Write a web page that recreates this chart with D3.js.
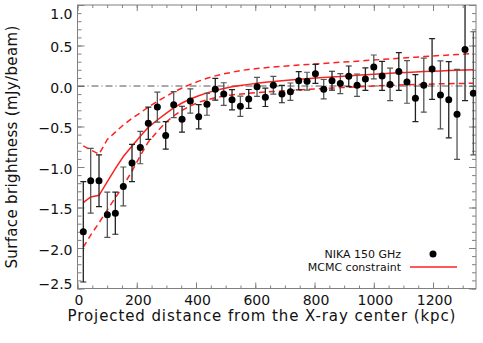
<!DOCTYPE html>
<html><head><meta charset="utf-8">
<script src="https://cdn.jsdelivr.net/npm/d3@7"></script>
<style>
body{margin:0;background:#fff;}
text{font-family:"DejaVu Sans",sans-serif;fill:#111;}
</style></head>
<body><svg id="c" width="483" height="343"></svg>
<script>
// ---- data ----
const xKpc = [19.6, 44.5, 72.6, 100.7, 127.7, 154.7, 184, 212, 239, 269.5, 297.7, 324.7, 352.8, 380.8, 409, 437, 465, 493.6, 521.6, 549.7, 577.8, 606, 634, 661, 690, 718.6, 746.7, 774.8, 803, 831, 859, 887, 915.5, 943.6, 971.7, 1000, 1028, 1055, 1084.5, 1112, 1140.5, 1168.8, 1196.8, 1225, 1253, 1281, 1308, 1336];
const nikaValues = [-1.80, -1.17, -1.17, -1.59, -1.57, -1.24, -0.95, -0.76, -0.46, -0.26, -0.61, -0.23, -0.41, -0.185, -0.38, -0.226, -0.04, -0.10, -0.17, -0.25, -0.16, -0.01, -0.14, 0.01, -0.10, -0.07, 0.065, 0.06, 0.15, -0.04, 0.065, 0.03, 0.12, 0.01, 0.085, 0.235, 0.125, 0.02, 0.18, 0.05, -0.15, 0.01, 0.21, -0.11, -0.17, -0.35, 0.45, -0.09];
const nikaErrors = [0.62, 0.40, 0.32, 0.28, 0.26, 0.24, 0.23, 0.20, 0.20, 0.185, 0.17, 0.16, 0.16, 0.15, 0.15, 0.135, 0.135, 0.14, 0.125, 0.125, 0.117, 0.117, 0.113, 0.11, 0.107, 0.107, 0.113, 0.11, 0.117, 0.12, 0.117, 0.123, 0.127, 0.138, 0.138, 0.148, 0.18, 0.20, 0.233, 0.263, 0.29, 0.333, 0.375, 0.42, 0.47, 0.555, 0.63, 0.76];
const mcmcBest = [-1.44, -1.37, -1.35, -1.18, -1.02, -0.87, -0.74, -0.62, -0.51, -0.42, -0.34, -0.27, -0.21, -0.16, -0.12, -0.085, -0.055, -0.03, -0.01, 0.005, 0.02, 0.035, 0.045, 0.055, 0.065, 0.075, 0.083, 0.09, 0.098, 0.105, 0.112, 0.118, 0.127, 0.133, 0.139, 0.145, 0.151, 0.157, 0.163, 0.168, 0.173, 0.178, 0.182, 0.186, 0.19, 0.194, 0.197, 0.2];
const mcmcUpper = [-0.74, -0.79, -0.84, -0.66, -0.57, -0.48, -0.40, -0.33, -0.26, -0.19, -0.13, -0.075, -0.025, 0.02, 0.06, 0.095, 0.125, 0.15, 0.17, 0.19, 0.205, 0.215, 0.225, 0.235, 0.243, 0.25, 0.258, 0.265, 0.272, 0.279, 0.286, 0.293, 0.3, 0.307, 0.314, 0.321, 0.328, 0.335, 0.342, 0.349, 0.356, 0.363, 0.37, 0.376, 0.382, 0.388, 0.394, 0.40];
const mcmcLower = [-1.99, -1.84, -1.69, -1.53, -1.38, -1.23, -1.05, -0.86, -0.69, -0.56, -0.45, -0.37, -0.30, -0.245, -0.2, -0.17, -0.145, -0.125, -0.11, -0.1, -0.09, -0.082, -0.075, -0.068, -0.062, -0.055, -0.048, -0.042, -0.036, -0.03, -0.025, -0.02, -0.015, -0.01, -0.005, 0.0, 0.004, 0.008, 0.012, 0.015, 0.018, 0.021, 0.024, 0.027, 0.029, 0.031, 0.032, 0.033];
const xTicks = [0, 200, 400, 600, 800, 1000, 1200];
const yTicks = [-2.5, -2.0, -1.5, -1.0, -0.5, 0.0, 0.5, 1.0];
const legendLabels = ["NIKA 150 GHz", "MCMC constraint"];
const xTitle = "Projected distance from the X-ray center (kpc)";
const yTitle = "Surface brightness (mJy/beam)";

// ---- layout ----
const L = 77.5, R = 476, T = 5, B = 288.5;
const svg = d3.select("#c");
const x = d3.scaleLinear().domain([0, 1345]).range([L, R]);
const y = d3.scaleLinear().domain([-2.5, 1.0]).range([B, T]);
const frameColor = "#808080";
const fmtY = v => d3.format(".1f")(v).replace("-", "\u2212");

svg.append("clipPath").attr("id","clp").append("rect")
  .attr("x", L).attr("y", T).attr("width", R-L).attr("height", B-T);

// minor ticks
const xMinor = d3.range(0, 1346, 50);
const yMinor = d3.range(-2.5, 1.0001, 0.1);
const axG = svg.append("g");
function axisTicks(axisFn, scale, vals, size, transform){
  const a = axisFn(scale).tickValues(vals).tickSize(size).tickFormat("");
  const g = axG.append("g").attr("transform", transform).call(a);
  g.select(".domain").remove();
  g.selectAll("line").attr("stroke", frameColor).attr("stroke-width", 1);
}
axisTicks(d3.axisTop, x, xMinor, 3, `translate(0,${B})`);
axisTicks(d3.axisTop, x, xTicks, 6, `translate(0,${B})`);
axisTicks(d3.axisBottom, x, xMinor, 3, `translate(0,${T})`);
axisTicks(d3.axisBottom, x, xTicks, 6, `translate(0,${T})`);
axisTicks(d3.axisRight, y, yMinor, 4, `translate(${L},0)`);
axisTicks(d3.axisRight, y, yTicks, 7, `translate(${L},0)`);
axisTicks(d3.axisLeft, y, yMinor, 4, `translate(${R},0)`);
axisTicks(d3.axisLeft, y, yTicks, 7, `translate(${R},0)`);

svg.append("rect").attr("x", L).attr("y", T).attr("width", R-L).attr("height", B-T)
  .attr("fill","none").attr("stroke", frameColor).attr("stroke-width",1);

// tick labels
const xl = d3.axisBottom(x).tickValues(xTicks).tickSize(0).tickPadding(0).tickFormat(d3.format("d"));
const gxl = svg.append("g").attr("transform", `translate(1,${B+7})`).call(xl);
gxl.select(".domain").remove();
gxl.selectAll("text").attr("font-size", 14).attr("font-family", "DejaVu Sans").attr("fill", "#111").attr("dy", "0.71em");

const yl = d3.axisLeft(y).tickValues(yTicks).tickSize(0).tickPadding(0).tickFormat(fmtY);
const gyl = svg.append("g").attr("transform", `translate(${L-5},0)`).call(yl);
gyl.select(".domain").remove();
gyl.selectAll("text").attr("font-size", 14).attr("font-family", "DejaVu Sans").attr("fill", "#111")
  .attr("dy", d => d === 1.0 ? "0.95em" : (d === -2.5 ? "0.0em" : "0.45em"));

// titles
svg.append("text").attr("x", 262).attr("y", 321).attr("text-anchor","middle")
  .attr("font-size", 15).attr("letter-spacing", 0.9).text(xTitle);
svg.append("text").attr("transform", `translate(17,147) rotate(-90)`).attr("text-anchor","middle")
  .attr("font-size", 15).attr("letter-spacing", 0.35).text(yTitle);

const plot = svg.append("g").attr("clip-path","url(#clp)");
plot.append("line").attr("x1", L).attr("x2", R).attr("y1", y(0)).attr("y2", y(0))
  .attr("stroke","#555").attr("stroke-width",1).attr("stroke-dasharray","7,3,1,3");

const line = arr => d3.line().x((d,i)=>x(xKpc[i])).y(d=>y(d))(arr);
plot.append("path").attr("d", line(mcmcUpper)).attr("fill","none").attr("stroke","#ff2020")
  .attr("stroke-width",1.5).attr("stroke-dasharray","6,4");
plot.append("path").attr("d", line(mcmcLower)).attr("fill","none").attr("stroke","#ff2020")
  .attr("stroke-width",1.5).attr("stroke-dasharray","6,4");
plot.append("path").attr("d", line(mcmcBest)).attr("fill","none").attr("stroke","#ff2020")
  .attr("stroke-width",1.5);

const eg = plot.append("g");
nikaValues.forEach((v,i)=>{
  const cx = x(xKpc[i]), e = nikaErrors[i];
  const col = i % 2 === 0 ? "#222" : "#555";
  eg.append("line").attr("x1",cx).attr("x2",cx).attr("y1",y(v-e)).attr("y2",y(v+e))
    .attr("stroke",col).attr("stroke-width",1.3);
  [v-e, v+e].forEach(yy=>{
    eg.append("line").attr("x1",cx-3).attr("x2",cx+3).attr("y1",y(yy)).attr("y2",y(yy))
      .attr("stroke",col).attr("stroke-width",1.2);
  });
});
plot.append("g").selectAll("circle").data(nikaValues).join("circle")
  .attr("cx",(d,i)=>x(xKpc[i])).attr("cy",d=>y(d)).attr("r",3.5).attr("fill","#000");

const lg = svg.append("g");
lg.append("text").attr("x", 401).attr("y", 258).attr("text-anchor","end").attr("font-size", 11).text(legendLabels[0]);
lg.append("circle").attr("cx", 433).attr("cy", 254).attr("r", 3.5).attr("fill","#000");
lg.append("text").attr("x", 401).attr("y", 271).attr("text-anchor","end").attr("font-size", 11).text(legendLabels[1]);
lg.append("line").attr("x1", 410).attr("x2", 457).attr("y1", 267).attr("y2", 267).attr("stroke","#ff2020").attr("stroke-width",1.5);
</script></body></html>
